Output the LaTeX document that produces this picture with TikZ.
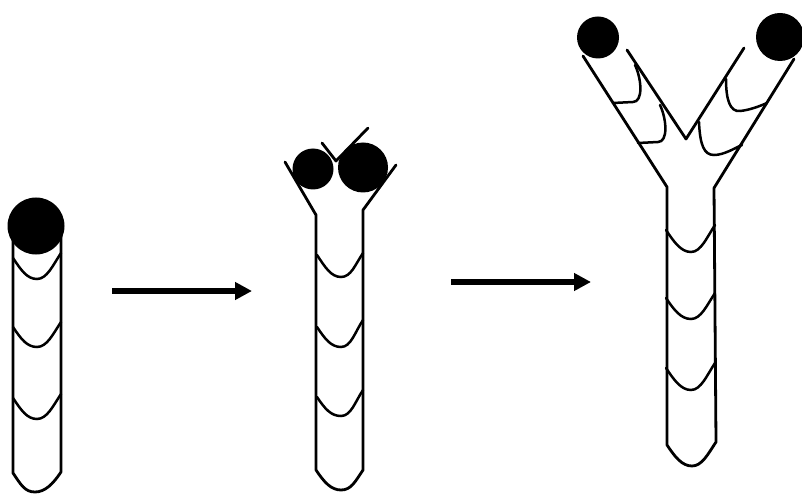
\documentclass[tikz,border=0pt]{standalone}
\usetikzlibrary{arrows.meta}
\begin{document}
\begin{tikzpicture}[x=1pt,y=-1pt,
  outline/.style={line width=2.8pt,line join=round,line cap=round},
  band/.style={line width=2.5pt,line cap=round},
  tip/.style={fill=black},
  growth/.style={line width=6pt,-{Triangle[length=17pt,width=17pt]}}]
\useasboundingbox (0,0) rectangle (802,494);

% ---- first stage: single tube with one tip
\draw[outline] (13,236) -- (13,473)
  .. controls +(8,12) and +(-10,0) .. (35,492)
  .. controls +(10,0) and +(-8,12) .. (61,472) -- (61,236);
\foreach \ya/\yb/\yc in {258/279/253, 327/347/322, 398/419/394}
  \draw[band] (13,\ya) .. controls +(8,12) and +(-10,0) .. (37,\yb)
    .. controls +(10,0) and +(-8,12) .. (61,\yc);
\fill[tip] (36,226) circle (28.5);

% ---- arrow 1
\coordinate (a1s) at (112,291);
\coordinate (a1e) at (252,291);
\draw[growth] (a1s) -- (a1e);

% ---- second stage: tube splitting at the top
\draw[outline] (285,162) -- (316,215) -- (316,470)
  .. controls +(8,12) and +(-10,0) .. (341,490)
  .. controls +(10,0) and +(-8,12) .. (363,470) -- (363,210) -- (396,165);
\foreach \ya/\yb/\yc in {255/277/253, 327/347/320, 397/416/390}
  \draw[band] (317,\ya) .. controls +(8,12) and +(-10,0) .. (341,\yb)
    .. controls +(10,0) and +(-8,12) .. (363,\yc);
\draw[outline] (322,143) -- (336,161) -- (368,128);
\fill[tip] (313,169) circle (20.5);
\fill[tip] (363,167.5) circle (25);

% ---- arrow 2
\coordinate (a2s) at (451,282);
\coordinate (a2e) at (591,282);
\draw[growth] (a2s) -- (a2e);

% ---- third stage: branched Y
\draw[outline] (583,56) -- (667,187) -- (667,445)
  .. controls +(8,12) and +(-10,0) .. (692,466)
  .. controls +(10,0) and +(-8,12) .. (716,442) -- (714,188) -- (794,59);
\draw[outline] (627,50) -- (686,139) -- (744,48);
\foreach \ya/\yb/\yc in {230/252/225, 298/319/293, 368/390/363}
  \draw[band] (666,\ya) .. controls +(8,12) and +(-10,0) .. (691,\yb)
    .. controls +(10,0) and +(-8,12) .. (715,\yc);
% left branch segments
\draw[band] (635,65) .. controls (642,80) and (643,102) .. (633,102) -- (613,103);
\draw[band] (660,105) .. controls (667,120) and (668,142) .. (658,142) -- (638,143);
% right branch segments
\draw[band] (726,79) .. controls (726,100) and (730,112) .. (740,111)
  .. controls (750,110) and (760,106) .. (767,103);
\draw[band] (699,122) .. controls (700,145) and (704,155) .. (714,155)
  .. controls (724,155) and (735,148) .. (742,145);
\fill[tip] (598,37.5) circle (21);
\fill[tip] (780,37) circle (24);
\end{tikzpicture}
\end{document}
